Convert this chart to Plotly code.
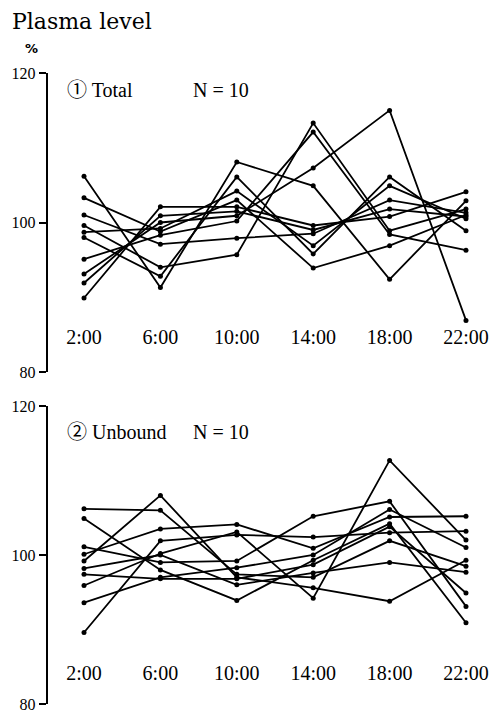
import plotly.graph_objects as go

times = ["2:00", "6:00", "10:00", "14:00", "18:00", "22:00"]
y_ticks = [80, 100, 120]

# ① Total, N = 10 (percent of mean)
total_s1 = [106.2, 91.3, 108.1, 104.9, 92.4, 102.9]
total_s2 = [98.0, 92.8, 106.1, 95.8, 106.1, 98.9]
total_s3 = [99.6, 94.0, 95.7, 113.3, 98.9, 101.8]
total_s4 = [103.3, 98.8, 103.0, 93.9, 96.9, 101.0]
total_s5 = [101.0, 97.1, 97.9, 98.5, 103.0, 101.3]
total_s6 = [98.7, 99.2, 104.2, 96.9, 104.9, 100.5]
total_s7 = [95.1, 98.3, 100.2, 112.1, 98.4, 96.3]
total_s8 = [93.1, 100.0, 100.9, 107.3, 115.0, 86.9]
total_s9 = [91.9, 100.9, 101.5, 99.0, 101.8, 100.8]
total_s10 = [89.9, 102.1, 102.1, 99.6, 100.8, 104.1]

# ② Unbound, N = 10
unbound_s1 = [106.2, 106.0, 97.4, 97.0, 101.9, 98.5]
unbound_s2 = [104.9, 98.0, 93.9, 99.3, 104.2, 90.9]
unbound_s3 = [101.1, 99.0, 99.2, 105.2, 107.2, 93.1]
unbound_s4 = [100.1, 103.5, 104.1, 100.9, 105.1, 105.2]
unbound_s5 = [99.2, 108.0, 97.0, 95.6, 93.8, 99.3]
unbound_s6 = [98.2, 100.0, 96.0, 97.6, 99.0, 97.7]
unbound_s7 = [97.4, 96.8, 96.8, 98.7, 103.8, 94.9]
unbound_s8 = [95.9, 100.2, 103.1, 94.2, 112.7, 102.0]
unbound_s9 = [93.6, 97.0, 98.3, 100.0, 106.1, 101.0]
unbound_s10 = [89.6, 101.9, 102.7, 102.4, 103.0, 103.2]

total = [total_s1, total_s2, total_s3, total_s4, total_s5,
         total_s6, total_s7, total_s8, total_s9, total_s10]
unbound = [unbound_s1, unbound_s2, unbound_s3, unbound_s4, unbound_s5,
           unbound_s6, unbound_s7, unbound_s8, unbound_s9, unbound_s10]

# the page body has an 8px margin, so the figure is sized to fill the rest of the window
OFF = 8
W, H = 499 - OFF, 713 - OFF


def px(x):
    return (x - OFF) / W


def py(y):
    return 1 - (y - OFF) / H


xpos = list(range(len(times)))
fig = go.Figure()
for s in total:
    fig.add_trace(go.Scatter(x=xpos, y=s, mode="lines+markers", xaxis="x", yaxis="y",
                             line=dict(color="black", width=1.8),
                             marker=dict(color="black", size=5), showlegend=False))
for s in unbound:
    fig.add_trace(go.Scatter(x=xpos, y=s, mode="lines+markers", xaxis="x2", yaxis="y2",
                             line=dict(color="black", width=1.8),
                             marker=dict(color="black", size=5), showlegend=False))

serif = "Liberation Serif, Noto Sans CJK JP, serif"
# axis line at 47.7px, 2:00 at 84px, step 76.4px
x_left_px = 47.7
step = 76.4
xdom = [px(x_left_px), 1.0]
xr = [(x_left_px - 84) / step, (499 - 84) / step]

xcommon = dict(domain=xdom, range=xr, tickvals=xpos, ticktext=times, showline=False,
               ticks="", showgrid=False, zeroline=False, anchor="free", automargin=False,
               ticklabeloverflow="allow",
               tickfont=dict(family=serif, size=20, color="black"))
ycommon = dict(range=[80, 120], tickvals=y_ticks, ticks="outside", ticklen=7, tickwidth=2,
               tickcolor="black", showline=True, linewidth=2, linecolor="black",
               showgrid=False, zeroline=False, automargin=False,
               ticklabeloverflow="allow",
               tickfont=dict(family=serif, size=16, color="black"))

fig.update_layout(
    width=W, height=H, margin=dict(l=0, r=0, t=0, b=0, pad=0),
    paper_bgcolor="white", plot_bgcolor="white",
    xaxis=dict(**xcommon, position=py(323)),
    xaxis2=dict(**xcommon, position=py(658.5)),
    yaxis=dict(**ycommon, domain=[py(372), py(73)], anchor="x"),
    yaxis2=dict(**ycommon, domain=[py(704), py(406)], anchor="x2"),
)

ann = [
    dict(text="Plasma level", x=px(10), y=py(21), xanchor="left", yanchor="middle",
         font=dict(family="DejaVu Serif, serif", size=22, color="black")),
    dict(text="<b>%</b>", x=px(31), y=py(49), xanchor="center", yanchor="middle",
         font=dict(family="DejaVu Sans, sans-serif", size=13, color="black")),
    dict(text="① Total", x=px(65), y=py(90), xanchor="left", yanchor="middle",
         font=dict(family=serif, size=20, color="black")),
    dict(text="N = 10", x=px(191), y=py(90), xanchor="left", yanchor="middle",
         font=dict(family=serif, size=20, color="black")),
    dict(text="② Unbound", x=px(65), y=py(432), xanchor="left", yanchor="middle",
         font=dict(family=serif, size=20, color="black")),
    dict(text="N = 10", x=px(191), y=py(432), xanchor="left", yanchor="middle",
         font=dict(family=serif, size=20, color="black")),
]
for a in ann:
    fig.add_annotation(xref="paper", yref="paper", showarrow=False, **a)

fig.write_html("out.html")
